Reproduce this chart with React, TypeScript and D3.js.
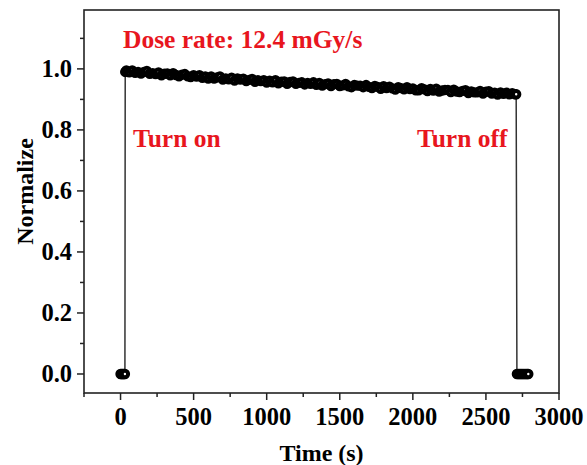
import React from "react";
import * as d3 from "d3";

const offTimesStart = [0, 6, 12, 18, 24, 30];
const onTimes = [
  32, 40, 60, 80, 100, 120, 140, 160, 180, 200, 220,
  240, 260, 280, 300, 320, 340, 360, 380, 400, 420,
  440, 460, 480, 500, 520, 540, 560, 580, 600, 620,
  640, 660, 680, 700, 720, 740, 760, 780, 800, 820,
  840, 860, 880, 900, 920, 940, 960, 980, 1000, 1020,
  1040, 1060, 1080, 1100, 1120, 1140, 1160, 1180, 1200, 1220,
  1240, 1260, 1280, 1300, 1320, 1340, 1360, 1380, 1400, 1420,
  1440, 1460, 1480, 1500, 1520, 1540, 1560, 1580, 1600, 1620,
  1640, 1660, 1680, 1700, 1720, 1740, 1760, 1780, 1800, 1820,
  1840, 1860, 1880, 1900, 1920, 1940, 1960, 1980, 2000, 2020,
  2040, 2060, 2080, 2100, 2120, 2140, 2160, 2180, 2200, 2220,
  2240, 2260, 2280, 2300, 2320, 2340, 2360, 2380, 2400, 2420,
  2440, 2460, 2480, 2500, 2520, 2540, 2560, 2580, 2600, 2620,
  2640, 2660, 2680, 2700, 2707,
];
const onValues = [
  0.990, 0.995, 0.989, 0.995, 0.987, 0.990, 0.985, 0.990, 0.993, 0.984, 0.986,
  0.983, 0.988, 0.979, 0.984, 0.985, 0.979, 0.986, 0.980, 0.976, 0.981,
  0.983, 0.976, 0.973, 0.979, 0.975, 0.979, 0.971, 0.975, 0.968, 0.975,
  0.968, 0.972, 0.975, 0.965, 0.969, 0.966, 0.971, 0.962, 0.969, 0.965,
  0.968, 0.960, 0.964, 0.967, 0.958, 0.963, 0.960, 0.963, 0.955, 0.961,
  0.956, 0.963, 0.953, 0.958, 0.959, 0.951, 0.957, 0.959, 0.951, 0.954,
  0.956, 0.949, 0.954, 0.951, 0.956, 0.948, 0.954, 0.945, 0.950, 0.952,
  0.944, 0.950, 0.951, 0.944, 0.946, 0.951, 0.943, 0.940, 0.947, 0.945,
  0.945, 0.940, 0.947, 0.941, 0.937, 0.944, 0.941, 0.935, 0.943, 0.937,
  0.942, 0.936, 0.932, 0.940, 0.937, 0.933, 0.940, 0.934, 0.936, 0.930,
  0.930, 0.937, 0.933, 0.927, 0.934, 0.929, 0.935, 0.926, 0.929, 0.931,
  0.931, 0.924, 0.932, 0.926, 0.924, 0.928, 0.930, 0.921, 0.926, 0.923,
  0.923, 0.928, 0.919, 0.925, 0.927, 0.919, 0.922, 0.916, 0.923, 0.918,
  0.922, 0.917, 0.920, 0.917, 0.917,
];
const offTimesEnd = [2712, 2720, 2728, 2736, 2744, 2752, 2760, 2768, 2776, 2784, 2790];

const xMajorTicks = [0, 500, 1000, 1500, 2000, 2500, 3000];
const xMinorTicks = [-250, 250, 750, 1250, 1750, 2250, 2750];
const yMajorTicks = [0, 0.2, 0.4, 0.6, 0.8, 1.0];
const yMinorTicks = [0.1, 0.3, 0.5, 0.7, 0.9, 1.1];

const doseLabel = "Dose rate: 12.4 mGy/s";
const onLabel = "Turn on";
const offLabel = "Turn off";
const xTitle = "Time (s)";
const yTitle = "Normalize";

const W = 587;
const H = 465;
const left = 84, right = 559, top = 10, bottom = 393;
const FONT = "'Liberation Serif', 'Times New Roman', serif";
const RED = "#e8161e";

export default function App() {
  const x = d3.scaleLinear().domain([-250, 3000]).range([left, right]);
  const y = d3.scaleLinear().domain([-0.0623, 1.193]).range([bottom, top]);

  const data: [number, number][] = [
    ...offTimesStart.map((t) => [t, 0] as [number, number]),
    ...onTimes.map((t, i) => [t, onValues[i]] as [number, number]),
    ...offTimesEnd.map((t) => [t, 0] as [number, number]),
  ];

  const line = d3
    .line<[number, number]>()
    .x((d) => x(d[0]))
    .y((d) => y(d[1]));

  return (
    <svg
      width={W}
      height={H}
      style={{ position: "absolute", left: 0, top: 0, background: "#fff" }}
      fontFamily={FONT}
    >
      <rect x={0} y={0} width={W} height={H} fill="#fff" />
      <path d={line(data) || ""} fill="none" stroke="#333" strokeWidth={1.5} />
      {data.map((d, i) => (
        <circle
          key={i}
          cx={x(d[0])}
          cy={y(d[1])}
          r={3.2}
          fill="#fff"
          stroke="#000"
          strokeWidth={4}
        />
      ))}

      <rect
        x={left}
        y={top}
        width={right - left}
        height={bottom - top}
        fill="none"
        stroke="#222"
        strokeWidth={1.6}
      />

      {xMajorTicks.map((t) => (
        <g key={"xM" + t}>
          <line x1={x(t)} x2={x(t)} y1={bottom} y2={bottom + 7} stroke="#222" strokeWidth={1.5} />
          <text x={x(t)} y={425} textAnchor="middle" fontSize={24.5} fontWeight="bold" fill="#000">
            {t}
          </text>
        </g>
      ))}
      {xMinorTicks.map((t) => (
        <line key={"xm" + t} x1={x(t)} x2={x(t)} y1={bottom} y2={bottom + 4} stroke="#222" strokeWidth={1.5} />
      ))}

      {yMajorTicks.map((t) => (
        <g key={"yM" + t}>
          <line x1={left - 7} x2={left} y1={y(t)} y2={y(t)} stroke="#222" strokeWidth={1.5} />
          <text
            x={72}
            y={y(t) + 8}
            textAnchor="end"
            fontSize={24.5}
            fontWeight="bold"
            fill="#000"
          >
            {t.toFixed(1)}
          </text>
        </g>
      ))}
      {yMinorTicks.map((t) => (
        <line key={"ym" + t} x1={left - 4} x2={left} y1={y(t)} y2={y(t)} stroke="#222" strokeWidth={1.5} />
      ))}

      <text x={(left + right) / 2} y={461} textAnchor="middle" fontSize={24} fontWeight="bold" fill="#000">
        {xTitle}
      </text>
      <text
        transform={`translate(33, 191.5) rotate(-90)`}
        textAnchor="middle"
        fontSize={24}
        fontWeight="bold"
        fill="#000"
      >
        {yTitle}
      </text>

      <text x={123} y={48} fontSize={25.5} fontWeight="bold" fill={RED}>
        {doseLabel}
      </text>
      <text x={133} y={147} fontSize={25.5} fontWeight="bold" fill={RED}>
        {onLabel}
      </text>
      <text x={417} y={147} fontSize={25.5} fontWeight="bold" fill={RED}>
        {offLabel}
      </text>
    </svg>
  );
}
